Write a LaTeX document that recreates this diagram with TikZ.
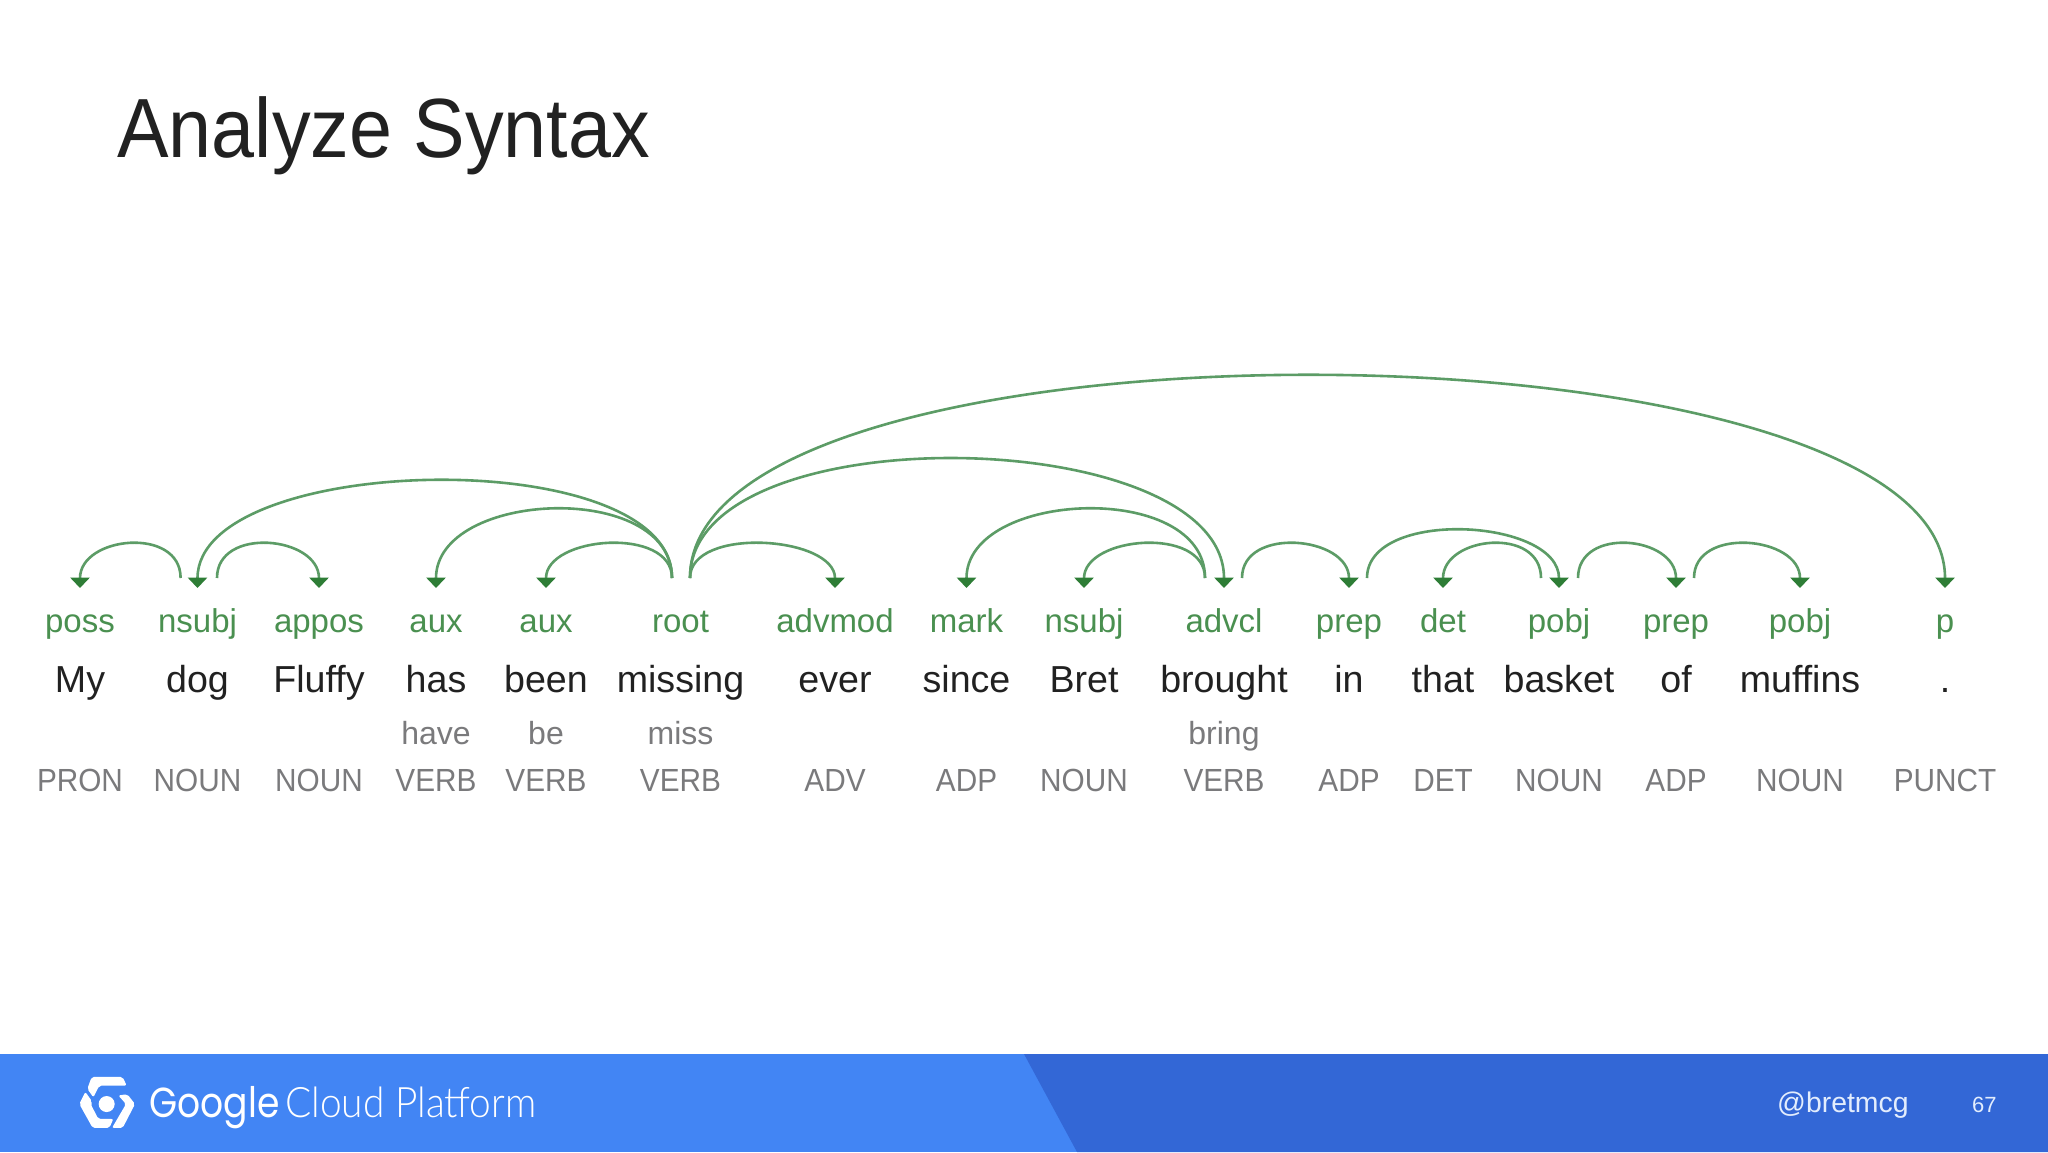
\documentclass[tikz,border=0pt]{standalone}
\usepackage{fontspec}
\usetikzlibrary{arrows.meta}
\setmainfont{Liberation Sans}
\newfontfamily\titlefont[FakeStretch=0.92]{Liberation Sans}
\newfontfamily\tagfont[FakeStretch=0.93]{Liberation Sans}
\newfontfamily\gfont[FakeStretch=0.86]{Poppins}
\newfontfamily\cpfont[UprightFont=* Light,FakeStretch=0.925]{Lato}
\definecolor{arcg}{HTML}{5C9C66}
\definecolor{tipg}{HTML}{2E7D36}
\definecolor{labg}{HTML}{4A9050}
\definecolor{wordc}{HTML}{212121}
\definecolor{greyc}{HTML}{7A7A7C}
\definecolor{barl}{HTML}{4285F4}
\definecolor{bard}{HTML}{3367D6}
\tikzset{
  lab/.style={text=labg,font=\fontsize{16.5}{16}\selectfont,anchor=base,inner sep=0pt},
  word/.style={text=wordc,font=\fontsize{18.8}{18}\selectfont,anchor=base,inner sep=0pt},
  lemma/.style={text=greyc,font=\fontsize{16}{16}\selectfont,anchor=base,inner sep=0pt},
  postag/.style={text=greyc,font=\tagfont\fontsize{16}{16}\selectfont,anchor=base,inner sep=0pt},
  dep/.style={draw=arcg,line width=1.3pt,-{Triangle[length=5.2pt,width=9.5pt,color=tipg,fill=tipg]}},
  logopart/.style={fill=white,rounded corners=1pt},
}
\newcommand{\tok}[6]{%
  \node[lab]  (l#1) at (#2,632) {#3};
  \node[word] (w#1) at (#2,692) {#4};
  \node[postag]  (p#1) at (#2,791) {#5};
  \coordinate (t#1) at (#2,588);
  \ifx\relax#6\relax\else\node[lemma] (m#1) at (#2,744) {#6};\fi
}
\newcommand{\dependency}[3]{% from, to, control height
  \draw[dep] (#1) .. controls +(0,-#3) and +(0,-#3) .. (t#2);}
\begin{document}
\begin{tikzpicture}[x=0.5pt,y=-0.5pt]
\useasboundingbox (0,0) rectangle (2048,1152);
\fill[white] (0,0) rectangle (2048,1152);
\node[anchor=base west,inner sep=0pt,text=wordc,font=\titlefont\fontsize{42}{42}\selectfont] (title) at (117,157) {Analyze Syntax};
\tok{a}{80}{poss}{My}{PRON}{}
\tok{b}{197.5}{nsubj}{dog}{NOUN}{}
\tok{c}{319}{appos}{Fluffy}{NOUN}{}
\tok{d}{436}{aux}{has}{VERB}{have}
\tok{e}{546}{aux}{been}{VERB}{be}
\tok{f}{680.5}{root}{missing}{VERB}{miss}
\tok{g}{835}{advmod}{ever}{ADV}{}
\tok{h}{966.5}{mark}{since}{ADP}{}
\tok{i}{1084}{nsubj}{Bret}{NOUN}{}
\tok{j}{1224}{advcl}{brought}{VERB}{bring}
\tok{k}{1349}{prep}{in}{ADP}{}
\tok{m}{1443}{det}{that}{DET}{}
\tok{n}{1559}{pobj}{basket}{NOUN}{}
\tok{o}{1676}{prep}{of}{ADP}{}
\tok{q}{1800}{pobj}{muffins}{NOUN}{}
\tok{r}{1945}{p}{.}{PUNCT}{}
\coordinate (sb1) at (180.6,578);
\coordinate (sb2) at (217,578);
\coordinate (sfl) at (672,578);
\coordinate (sfr) at (690,578);
\coordinate (sjl) at (1205,578);
\coordinate (sjr) at (1242,578);
\coordinate (sk) at (1367,578);
\coordinate (snl) at (1541,578);
\coordinate (snr) at (1578,578);
\coordinate (so) at (1694,578);
\dependency{sb1}{a}{52}
\dependency{sb2}{c}{52}
\dependency{sfl}{b}{136}
\dependency{sfl}{d}{98}
\dependency{sfl}{e}{52}
\dependency{sfr}{g}{52}
\dependency{sfr}{j}{165}
\dependency{sfr}{r}{276}
\dependency{sjl}{h}{98}
\dependency{sjl}{i}{52}
\dependency{sjr}{k}{52}
\dependency{sk}{n}{70}
\dependency{snl}{m}{52}
\dependency{snr}{o}{52}
\dependency{so}{q}{52}
\fill[barl] (0,1054) rectangle (2048,1152);
\fill[bard] (1024,1054) -- (2048,1054) -- (2048,1152) -- (1077,1152) -- cycle;
\begin{scope}[shift={(70,1066)},x=0.1667pt,y=-0.196pt]
\fill[logopart] (65,28) -- (158,28) -- (170,50) -- (88,50) -- (70,80) -- (52,58) -- cycle;
\fill[logopart] (46,66) -- (66,90) -- (62,97) -- (85,135) -- (130,135) -- (118,158) -- (68,158) -- (28,97) -- cycle;
\fill[logopart] (145,75) -- (172,72) -- (195,97) -- (158,158) -- (126,158) -- (168,97) -- cycle;
\fill[white] (110,97) circle[radius=4pt];
\end{scope}
\node[anchor=base west,inner sep=0pt,text=white,font=\fontsize{21}{21}\selectfont] (gcp) at (149,1117) {{\gfont Google}\hspace{3pt}{\cpfont Cloud Platform}};
\node[anchor=base east,inner sep=0pt,text=white!85!barl,font=\fontsize{14.2}{15}\selectfont] (handle) at (1909,1112) {@bretmcg};
\node[anchor=base east,inner sep=0pt,text=white!85!barl,font=\fontsize{11}{11}\selectfont] (page) at (1997,1112) {67};
\end{tikzpicture}
\end{document}
